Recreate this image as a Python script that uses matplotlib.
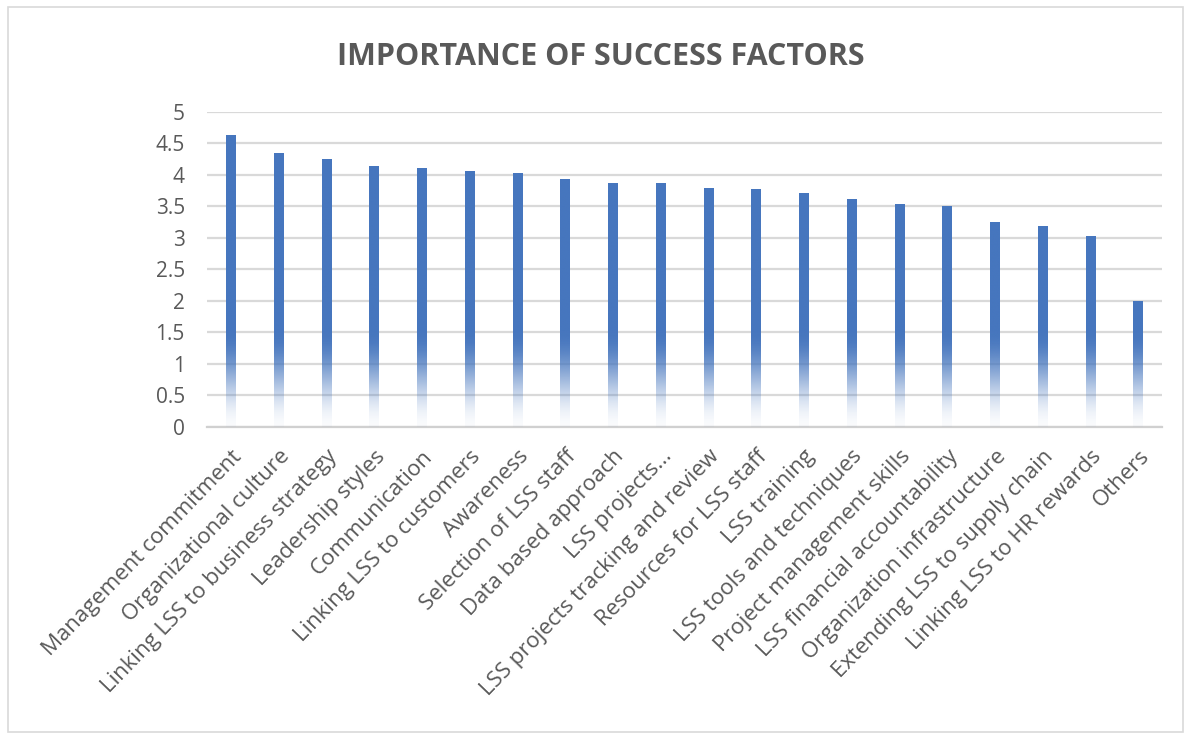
import numpy as np
import matplotlib
matplotlib.use("Agg")
import matplotlib.pyplot as plt
from matplotlib.patches import Rectangle

factors = ["Management commitment", "Organizational culture",
           "Linking LSS to business strategy", "Leadership styles",
           "Communication", "Linking LSS to customers", "Awareness",
           "Selection of LSS staff", "Data based approach", "LSS projects...",
           "LSS projects tracking and review", "Resources for LSS staff",
           "LSS training", "LSS tools and techniques",
           "Project management skills", "LSS financial accountability",
           "Organization infrastructure", "Extending LSS to supply chain",
           "Linking LSS to HR rewards", "Others"]
scores = [4.63, 4.35, 4.25, 4.14, 4.10, 4.06, 4.02, 3.93, 3.86, 3.86,
          3.79, 3.77, 3.70, 3.62, 3.53, 3.50, 3.24, 3.19, 3.02, 2.00]
yticks = [0, 0.5, 1, 1.5, 2, 2.5, 3, 3.5, 4, 4.5, 5]

plt.rcParams['font.family'] = ['Open Sans', 'DejaVu Sans']
grey = '#595959'

fig = plt.figure(figsize=(11.9, 7.33), dpi=100)
ax = fig.add_axes([0.174, 0.418, 0.8025, 0.4296])

x = np.arange(len(factors))
bars = ax.bar(x, scores, width=0.2, color='none', zorder=3)

# gradient fill: solid blue on top, fading to white near the axis
base = np.array(matplotlib.colors.to_rgb('#4676BE'))
for b in bars:
    h = b.get_height()
    t = np.linspace(0, h, 400)
    s = np.clip(t / 1.5, 0.0, 1.0)
    a = s * s * (3 - 2 * s)
    a = 0.03 + 0.97 * a
    img = np.zeros((len(t), 1, 4))
    img[:, 0, :3] = base
    img[:, 0, 3] = a
    ax.imshow(img, extent=(b.get_x(), b.get_x() + b.get_width(), 0, h),
              origin='lower', aspect='auto', zorder=3, interpolation='bilinear')

ax.set_xlim(-0.5, len(factors) - 0.5)
ax.set_ylim(0, 5)
ax.set_yticks(yticks)
ax.set_yticklabels([f"{v:g}" for v in yticks])
ax.yaxis.grid(True, color='#D9D9D9', linewidth=1.6, zorder=0)
ax.set_axisbelow(True)
for s in ['top', 'right', 'left']:
    ax.spines[s].set_visible(False)
ax.spines['bottom'].set_color('#D0D0D0')
ax.spines['bottom'].set_linewidth(1.6)

ax.set_xticks(x)
ax.set_xticklabels(factors, rotation=46, ha='right', rotation_mode='anchor')
ax.tick_params(axis='x', length=0, pad=14, labelsize=16, labelcolor=grey)
ax.tick_params(axis='y', length=0, pad=16, labelsize=15, labelcolor=grey)

fig.text(0.505, 0.922, "IMPORTANCE OF SUCCESS FACTORS", ha='center', va='center',
         fontsize=22, fontweight='bold', color=grey)

fig.patches.append(Rectangle((8 / 1190, 1 / 733), 1175 / 1190, 725 / 733,
                             transform=fig.transFigure, fill=False,
                             edgecolor='#D9D9D9', linewidth=1.2))

fig.savefig('out.png', dpi=100, facecolor='white')
